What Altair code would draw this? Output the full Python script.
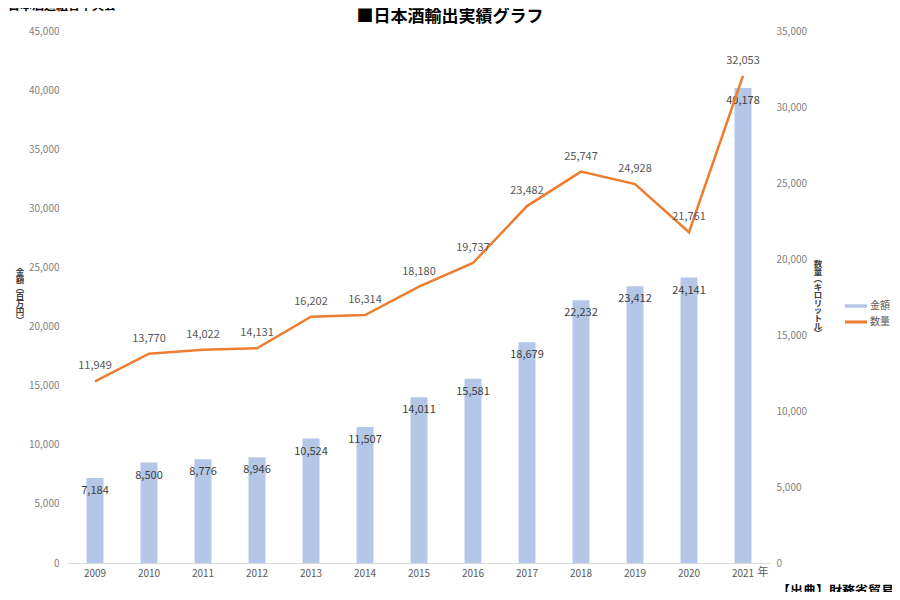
import altair as alt
import pandas as pd

years = ["2009", "2010", "2011", "2012", "2013", "2014", "2015", "2016", "2017", "2018", "2019", "2020", "2021"]
amount = [7184, 8500, 8776, 8946, 10524, 11507, 14011, 15581, 18679, 22232, 23412, 24141, 40178]
volume = [11949, 13770, 14022, 14131, 16202, 16314, 18180, 19737, 23482, 25747, 24928, 21761, 32053]
left_ticks = [0, 5000, 10000, 15000, 20000, 25000, 30000, 35000, 40000, 45000]
right_ticks = [0, 5000, 10000, 15000, 20000, 25000, 30000, 35000]

df = pd.DataFrame({"year": years, "amount": amount, "volume": volume})

FONT = "Noto Sans CJK JP"
BAR_COLOR = "#B4C7E7"
LINE_COLOR = "#ED7D31"

x = alt.X("year:O", sort=years, title=None,
          scale=alt.Scale(paddingInner=0, paddingOuter=0),
          axis=alt.Axis(labelAngle=0, ticks=False, domainColor="#d9d9d9",
                        labelColor="#595959", labelFontSize=10, labelPadding=5, grid=False))

y_left = alt.Y("amount:Q", title=None,
               scale=alt.Scale(domain=[0, 45000], nice=False),
               axis=alt.Axis(values=left_ticks, labelExpr="format(datum.value, ',')", domain=False, ticks=False,
                             grid=False, labelColor="#7f7f7f", labelFontSize=10, labelPadding=9))

y_right = alt.Y("volume:Q", title=None,
                scale=alt.Scale(domain=[0, 35000], nice=False),
                axis=alt.Axis(orient="right", values=right_ticks, labelExpr="format(datum.value, ',')",
                              domain=False, ticks=False, grid=False, labelColor="#7f7f7f", labelFontSize=10,
                              labelPadding=6))

bars = alt.Chart(df).mark_bar(size=17, color=BAR_COLOR).encode(x=x, y=y_left)
bar_labels = alt.Chart(df).mark_text(dy=13, baseline="middle", fontSize=11, color="#404040", font=FONT).encode(
    x=x, y=y_left, text=alt.Text("amount:Q", format=","))
bar_layer = alt.layer(bars, bar_labels)

line = alt.Chart(df).mark_line(color=LINE_COLOR, strokeWidth=2.5).encode(x=x, y=y_right)
line_labels = alt.Chart(df).mark_text(dy=-15, baseline="middle", fontSize=11, color="#595959", font=FONT).encode(
    x=x, y=y_right, text=alt.Text("volume:Q", format=","))
line_layer = alt.layer(line, line_labels)

one = alt.Data(values=[{"a": 1}])


def label(text, px, py, **kw):
    return alt.Chart(one).mark_text(font=FONT, **kw).encode(
        x=alt.value(px), y=alt.value(py), text=alt.value(text))


title = label("■日本酒輸出実績グラフ", 382, -22, baseline="top", align="center",
              fontSize=17, fontWeight="bold", color="#000000")
org = label("日本酒造組合中央会", -60, -18, baseline="bottom", align="left",
            fontSize=12, fontWeight="bold", color="#000000")
source = label("【出典】財務省貿易統計", 709, 554, baseline="top", align="left",
               fontSize=13, fontWeight="bold", color="#000000")
nen = label("年", 695, 542, baseline="middle", align="center", fontSize=11, color="#595959")
left_title = label(["金", "額", "︵", "百", "万", "円", "︶"], -48, 241, baseline="middle", align="center",
                   fontSize=8.5, fontWeight="bold", color="#404040", lineHeight=8)
right_title = label(["数", "量", "︵", "キ", "ロ", "リ", "ッ", "ト", "ル", "︶"], 750, 233, baseline="middle",
                    align="center", fontSize=8.5, fontWeight="bold", color="#404040", lineHeight=7.7)

leg1 = alt.Chart(one).mark_rule(color=BAR_COLOR, strokeWidth=3.5).encode(
    x=alt.value(777), x2=alt.value(799), y=alt.value(275))
leg2 = alt.Chart(one).mark_rule(color=LINE_COLOR, strokeWidth=3).encode(
    x=alt.value(777), x2=alt.value(799), y=alt.value(291))
leg1t = label("金額", 802, 275, baseline="middle", align="left", fontSize=10, color="#595959")
leg2t = label("数量", 802, 291, baseline="middle", align="left", fontSize=10, color="#595959")

chart = alt.layer(
    bar_layer, line_layer, title, org, source, nen, left_title, right_title, leg1, leg2, leg1t, leg2t
).resolve_scale(y="independent").properties(
    width=702, height=532,
    autosize=alt.AutoSizeParams(type="none"),
    padding={"left": 60, "top": 23, "right": 122, "bottom": 29},
    background="white",
).configure_view(stroke=None).configure_text(font=FONT).configure_axis(labelFont=FONT)

chart.save("out.html", embed_options={"renderer": "svg", "actions": False})
